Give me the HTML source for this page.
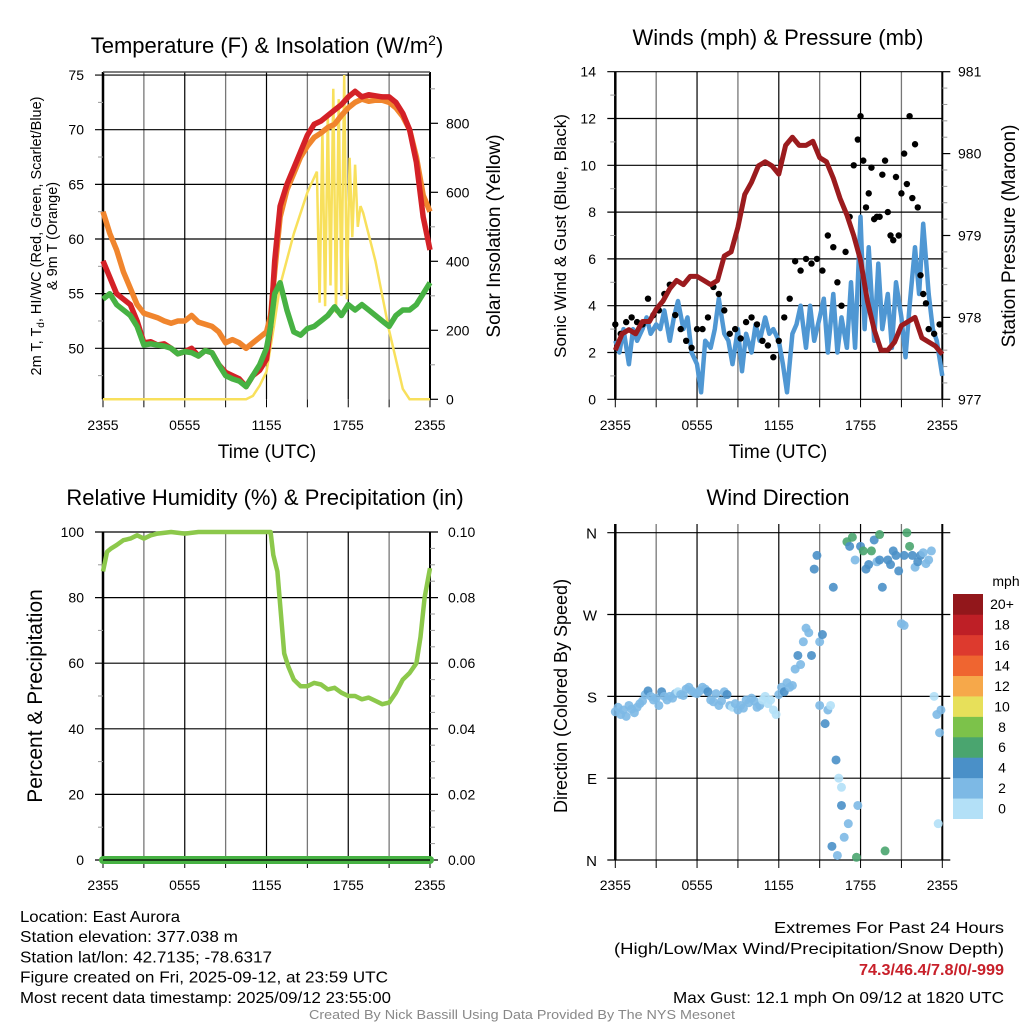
<!DOCTYPE html>
<html><head><meta charset="utf-8"><style>
body{margin:0;background:#fff}
svg{display:block;font-family:"Liberation Sans",sans-serif}
</style></head><body>
<svg id="s" width="1024" height="1024" viewBox="0 0 1024 1024"></svg>
<script>
// ---------- DATA ----------
const tempTimes=[0,0.5,1,1.5,2,2.5,3,3.5,4,4.5,5,5.5,6,6.5,7,7.5,8,8.5,9,9.5,10,10.5,11,11.5,12,12.3,12.6,13,13.5,14,14.5,15,15.5,16,16.5,17,17.5,18,18.5,19,19.5,20,20.5,21,21.5,22,22.5,23,23.5,24];
const tempRed=[58,56.5,55,54.5,54,52.5,50.5,50.6,50.3,50.4,50,49.5,49.7,50,49.3,49.8,49.6,48.5,47.8,47.5,47.2,46.5,47.5,48,49,52,58,63,65,66.5,68,69.5,70.5,70.8,71.3,71.8,72.3,73,73.5,73,73.2,73.1,73,73,72.5,71.5,70,67,62,59];
const tempOrange=[62.5,60.5,59,57,55.5,54,53.2,53,52.8,52.5,52.3,52.5,52.5,53,52.4,52.2,52,51.5,50.5,50.8,50.5,50,50.5,51,51.5,53,57,62,64.5,66,67.5,68.5,69.3,69.7,70.2,70.5,71.3,72,72.5,72.8,72.6,72.7,72.7,72.5,72,71.2,70,67.5,64,62.5];
const tempGreen=[54.5,55,54,53.5,53,52,50.3,50.4,50.3,50.2,50,49.5,49.7,49.6,49.3,49.8,49.6,48.5,47.5,47.2,47,46.5,47.5,48.5,50,52,55,56,53.5,51.5,51.2,51.8,52,52.5,53,53.8,53,54,53.5,54,53.5,53,52.5,52,53,53.5,53.5,54,55,56];
const solarTimes=[0,10.5,11,11.5,12,12.5,13,14,15,15.7,15.9,16.1,16.3,16.5,16.7,16.9,17.1,17.3,17.5,17.7,17.9,18.1,18.3,18.5,18.7,18.9,19.1,20,21,22,22.5,24];
const solarVals=[0,0,10,40,80,200,330,480,600,660,280,780,270,830,330,900,250,870,300,940,290,700,470,680,500,560,540,400,200,30,0,0];
const windTimes=[0,0.3,0.6,1,1.3,1.6,2,2.3,2.6,3,3.3,3.6,4,4.3,4.6,5,5.3,5.6,6,6.3,6.6,7,7.3,7.6,8,8.3,8.6,9,9.3,9.6,10,10.3,10.6,11,11.3,11.6,12,12.3,12.6,13,13.3,13.6,14,14.3,14.6,15,15.3,15.6,16,16.3,16.6,17,17.3,17.6,18,18.3,18.6,19,19.3,19.6,20,20.3,20.6,21,21.3,21.6,22,22.3,22.6,23,23.3,23.6,24];
const windVals=[2.5,2,3,1.5,3,2.5,3,3.5,2.8,3.2,3,3.8,2.5,3.5,4.2,3,3.5,2,1.5,0.3,2.5,2.2,3,4.3,2.8,2.5,1.5,3,1.2,2.8,2,3.2,2.5,3.5,2.8,3,2.5,1.5,0.3,2.8,3.2,4,2.2,4,2.5,3.5,4.3,2,4.5,2,3.5,2.2,5,2.2,7.8,3,6.5,2.5,5.8,3,4.5,2.2,5,3.5,1.8,4,6.5,4.5,7.5,4.5,3,2.5,1];
const pressTimes=[0,0.5,1,1.5,2,2.5,3,3.5,4,4.5,5,5.5,6,6.5,7,7.5,8,8.5,9,9.5,10,10.5,11,11.5,12,12.5,13,13.5,14,14.5,15,15.5,16,16.5,17,17.5,18,18.5,19,19.5,20,20.5,21,21.5,22,22.5,23,23.5,24];
const pressVals=[977.6,977.8,977.85,977.8,977.95,977.95,978.1,978.2,978.35,978.45,978.4,978.5,978.5,978.45,978.4,978.45,978.75,978.8,979.1,979.5,979.65,979.85,979.9,979.85,979.75,980.1,980.2,980.1,980.1,980.15,979.95,979.9,979.7,979.45,979.25,979.0,978.7,978.2,977.85,977.6,977.6,977.7,977.9,977.95,978.0,977.75,977.7,977.65,977.55];
const gustTimes=[0,0.4,0.8,1.2,1.6,2,2.4,2.8,3.2,3.6,4,4.4,4.8,5.2,5.6,6,6.4,6.8,7.2,7.6,8,8.4,8.8,9.2,9.6,10,10.4,10.8,11.2,11.6,12,12.4,12.8,13.2,13.6,14,14.4,14.8,15.2,15.6,16,16.3,16.6,16.9,17.2,17.5,17.8,18,18.2,18.4,18.6,18.8,19,19.2,19.4,19.6,19.8,20,20.2,20.4,20.6,20.8,21,21.2,21.4,21.6,21.8,22,22.2,22.4,22.6,22.8,23,23.4,23.8];
const gustVals=[3.2,2.8,3.3,3.5,3.3,3.2,4.3,3.6,3.8,4.5,4.9,3.6,3,2.5,2.2,3,3,3.5,4.8,4.5,3.8,2.8,3,2.6,3.3,3.5,3.2,2.5,2.3,1.8,2.5,3.5,4.3,5.9,5.5,6,5.8,6,5.5,7,6.5,5,4,6.3,7.8,10,11.1,12.1,10.2,8.2,8.8,9.9,7.7,7.8,7.8,9.6,10.2,8,7,6.8,9.5,7,8.8,10.5,9.2,12.1,8.6,10.9,8.2,5.3,4.5,4.1,3,2.8,3.2];
const rhTimes=[0,0.3,0.6,1,1.5,2,2.5,3,3.5,4,5,6,7,8,9,10,11,12,12.3,12.5,12.8,13,13.3,13.6,14,14.5,15,15.5,16,16.5,17,17.5,18,18.5,19,19.5,20,20.5,21,21.5,22,22.5,23,23.3,23.6,24];
const rhVals=[88,94,95,96,97.5,98,99,98,99,99.5,100,99.5,100,100,100,100,100,100,100,93,88,78,63,59,55,53,53,54,53.5,52,52.5,51,50,50,49,49.5,48.5,47.5,48,51,55,57,60,68,80,89];
const precipTimes=[0,24];
const precipVals=[0,0];
const dirTimes=[0,0.2,0.4,0.6,0.8,1.0,1.2,1.4,1.6,1.8, 2.0,2.2,2.4,2.6,2.8,3.0,3.2,3.4,3.6,3.8, 4.0,4.2,4.4,4.6,4.8,5.0,5.2,5.4,5.6,5.8, 6.0,6.2,6.4,6.6,6.8,7.0,7.2,7.4,7.6,7.8, 8.0,8.2,8.4,8.6,8.8,9.0,9.2,9.4,9.6,9.8, 10.0,10.2,10.4,10.6,10.8,11.0,11.2,11.4,11.6,11.8, 12.0,12.2,12.4,12.6,12.8,13.0,13.2,13.4,13.6,13.8, 14.0,14.2,14.4,14.6,14.8,15.0,15.2,15.4,15.6,15.8, 16.0,16.2,16.4,16.6,16.8,17.0,17.2,17.4,17.6,17.8, 18.0,18.2,18.4,18.6,18.8,19.0,19.2,19.4,19.6,19.8, 20.0,20.2,20.4,20.6,20.8,21.0,21.2,21.4,21.6,21.8, 22.0,22.2,22.4,22.6,22.8,23.0,23.2,23.4,23.6,23.8, 15.0,15.9,16.3,16.6,17.1,17.7,19.4,21.2,23.7,23.9];
const dirVals=[163,168,160,165,158,170,166,162,168,172, 175,182,186,180,176,178,170,185,180,176, 180,178,183,185,182,181,188,190,186,184, 183,186,190,188,185,176,174,183,170,175, 185,182,170,168,172,165,170,167,176,173, 178,175,168,170,176,180,172,176,165,160, 182,190,185,195,190,192,210,225,215,240, 255,250,225,320,335,240,248,150,165,170, 300,110,90,60,25,350,345,355,330,60, 345,340,320,325,340,352,328,330,300,10, 330,325,340,335,318,260,335,360,345,335, 322,328,335,338,326,330,340,180,160,140, 170,15,5,80,40,3,358,258,40,165];
const dirSpeeds=[2,2,2,2,2,2,2,2,2,2, 2,2,4,2,2,2,2,4,2,2, 2,2,2,1,2,2,2,2,2,2, 2,2,2,2,4,2,2,2,2,2, 2,4,2,1,2,2,2,2,2,2, 2,2,2,2,1,1,1,1,1,1, 2,2,4,2,2,2,2,4,2,2, 2,2,4,4,4,2,4,4,2,1, 4,4,1,4,2,6,4,6,2,2, 4,6,4,4,6,4,2,4,4,6, 4,4,4,4,4,2,4,6,6,4, 2,4,4,2,2,2,2,1,2,2, 2,4,2,1,2,6,6,2,1,2];
const tempTicks=[50,55,60,65,70,75];
const solarTicks=[0,200,400,600,800];
const windTicks=[0,2,4,6,8,10,12,14];
const pressTicks=[977,978,979,980,981];
const rhTicks=[0,20,40,60,80,100];
const precipTicks=["0.00","0.02","0.04","0.06","0.08","0.10"];
const timeLabels=["2355","0555","1155","1755","2355"];
const dirLabels=["N","E","S","W","N"];
const cbLabels=["0","2","4","6","8","10","12","14","16","18","20+"];
const cbColors=["#b3e0f7","#7db9e5","#4a90c8","#4aa56f","#7cc24a","#e7e05a","#f6a84a","#ef6530","#dd3a2e","#be1f26","#92171b"];

// ---------- HELPERS ----------
const S=document.getElementById('s');const NS='http://www.w3.org/2000/svg';
function el(tag,attrs,parent){const e=document.createElementNS(NS,tag);for(const k in attrs)e.setAttribute(k,attrs[k]);(parent||S).appendChild(e);return e;}
function txt(x,y,s,size,anchor,extra){const e=el('text',Object.assign({x:x,y:y,'font-size':size,'text-anchor':anchor||'middle',fill:'#000'},extra||{}));e.textContent=s;return e;}
function path(ts,vs,xf,yf){return ts.map((t,i)=>(i?'L':'M')+xf(t).toFixed(1)+','+yf(vs[i]).toFixed(1)).join('');}
function grid(x0,x1,yTop,yBot,name){
  const g=el('g',{});
  
  
  for(let h=0;h<=24;h+=3){const x=x0+h/24*(x1-x0);el('line',{x1:x,x2:x,y1:yTop,y2:yBot,stroke:h%6?'#777':'#000','stroke-width':h%6?1.3:1.2},g);
    el('line',{x1:x,x2:x,y1:yBot,y2:yBot+8,stroke:'#000','stroke-width':1},g);}
  el('line',{x1:x0,x2:x0,y1:yTop,y2:yBot,stroke:'#000','stroke-width':2.5},g);
  el('line',{x1:x1,x2:x1,y1:yTop,y2:yBot,stroke:'#000','stroke-width':2},g);
  return g;
}
function hline(x0,x1,y,c,w){el('line',{x1:x0,x2:x1,y1:y,y2:y,stroke:c||'#000','stroke-width':w||1.2});}
function xLabels(x0,x1,y,name){timeLabels.forEach((l,i)=>{const t=txt(x0+i*(x1-x0)/4,y,l,14);
  
  });}

// ---------- PANEL 1 ----------
{const x0=103,x1=430,xf=t=>x0+t/24*(x1-x0),yf=v=>348.3-(v-50)*10.93,sf=v=>399.3-v*0.345;
 grid(x0,x1,72,399.3,'temperature');
 tempTicks.forEach(v=>{hline(x0-8,x1,yf(v),'#000',1.2);txt(84,yf(v)+5,v,14,'end');});
 [47.5,52.5,57.5,62.5,67.5,72.5].forEach(v=>hline(x0-5,x0,yf(v),'#999',1));
 hline(x0,x1,72,'#555',1.5);
 solarTicks.forEach(v=>{hline(x1,x1+8,sf(v),'#000',1.2);txt(446,sf(v)+5,v,14,'start');});
 for(let v=100;v<=900;v+=100){if(v%200)hline(x1,x1+5,sf(v),'#999',1);}
 const sol=el('path',{d:path(solarTimes,solarVals,xf,sf),fill:'none',stroke:'#f8e05c','stroke-width':2.5});
 
 
 const po=el('path',{d:path(tempTimes,tempOrange,xf,yf),fill:'none',stroke:'#f0852d','stroke-width':5.5,'stroke-linejoin':'round'});
 
 
 const pr=el('path',{d:path(tempTimes,tempRed,xf,yf),fill:'none',stroke:'#d42127','stroke-width':5.5,'stroke-linejoin':'round'});
 
 
 const pg=el('path',{d:path(tempTimes,tempGreen,xf,yf),fill:'none',stroke:'#47b243','stroke-width':5.5,'stroke-linejoin':'round'});
 
 
 const t1=txt(267,53,'',22);t1.innerHTML='Temperature (F) &amp; Insolation (W/m<tspan dy="-8" font-size="14">2</tspan><tspan dy="8">)</tspan>';
 
 
 xLabels(x0,x1,430,'temperature');
 const xt=txt(267,458,'Time (UTC)',19);
 
 
 const yt=txt(0,0,'',14.5,'middle',{transform:'translate(41,236) rotate(-90)'});yt.innerHTML='2m T, T<tspan dy="3" font-size="10">d</tspan><tspan dy="-3">, HI/WC (Red, Green, Scarlet/Blue)</tspan>';
 
 
 const yt2=txt(0,0,'& 9m T (Orange)',14.5,'middle',{transform:'translate(57,236) rotate(-90)'});
 
 
 const rt=txt(0,0,'Solar Insolation (Yellow)',19,'middle',{transform:'translate(500,236) rotate(-90)'});
 
 
}
// ---------- PANEL 2 ----------
{const x0=615.3,x1=942.3,xf=t=>x0+t/24*(x1-x0),yf=v=>399.3-v*23.4,pf=v=>399.3-(v-977)*81.9;
 grid(x0,x1,71.7,399.3,'winds');
 windTicks.forEach(v=>{hline(x0-8,x1,yf(v),'#000',1.2);txt(596,yf(v)+5,v,14,'end');});
 for(let v=1;v<14;v+=2)hline(x0-5,x0,yf(v),'#999',1);
 pressTicks.forEach(v=>{hline(x1,x1+8,pf(v),'#000',1.2);txt(958,pf(v)+5,v,14,'start');});
 for(let v=977.2;v<981;v+=0.2){if(Math.abs(v-Math.round(v))>0.05)hline(x1,x1+5,pf(v),'#999',1);}
 const wl=el('path',{d:path(windTimes,windVals,xf,yf),fill:'none',stroke:'#4f97d3','stroke-width':4.5,'stroke-linejoin':'round'});
 
 
 gustTimes.forEach((t,i)=>{const c=el('circle',{cx:xf(t),cy:yf(gustVals[i]),r:3.2,fill:'#000'});
   
   });
 const pl=el('path',{d:path(pressTimes,pressVals,xf,pf),fill:'none',stroke:'#9b1b1e','stroke-width':5,'stroke-linejoin':'round'});
 
 
 const t=txt(778,45,'Winds (mph) & Pressure (mb)',22);
 
 
 xLabels(x0,x1,430,'winds');
 const xt=txt(778,458,'Time (UTC)',19);
 
 
 const yt=txt(0,0,'Sonic Wind & Gust (Blue, Black)',17,'middle',{transform:'translate(566,236) rotate(-90)'});
 
 
 const rt=txt(0,0,'Station Pressure (Maroon)',19,'middle',{transform:'translate(1015,236) rotate(-90)'});
 
 
}
// ---------- PANEL 3 ----------
{const x0=103,x1=430,xf=t=>x0+t/24*(x1-x0),yf=v=>860-v*3.28,pf=v=>860-v*3280;
 grid(x0,x1,532,860,'humidity');
 rhTicks.forEach(v=>{hline(x0-8,x1+8,yf(v),'#000',1.2);txt(84,yf(v)+5,v,14,'end');});
 for(let v=10;v<100;v+=20)hline(x0-5,x0,yf(v),'#999',1);
 for(let v=5;v<100;v+=5){if(v%20)hline(x1,x1+5,yf(v),'#999',1);}
 precipTicks.forEach((l,i)=>txt(448,yf(i*20)+5,l,14,'start'));
 const rl=el('path',{d:path(rhTimes,rhVals,xf,yf),fill:'none',stroke:'#8cc84b','stroke-width':4.5,'stroke-linejoin':'round'});
 
 
 const pl=el('path',{d:path(precipTimes,precipVals,xf,pf),fill:'none',stroke:'#47b243','stroke-width':8,'stroke-linecap':'round'});
 
 
 hline(x0,x1,860,'#000',1.2);
 const t=txt(265,505,'Relative Humidity (%) & Precipitation (in)',22);
 
 
 xLabels(x0,x1,890,'humidity');
 const yt=txt(0,0,'Percent & Precipitation',21,'middle',{transform:'translate(42,696) rotate(-90)'});
 
 
}
// ---------- PANEL 4 ----------
{const x0=615.3,x1=942.3,xf=t=>x0+t/24*(x1-x0),yf=v=>860-v/360*327.3;
 grid(x0,x1,524,860,'direction');
 dirLabels.forEach((l,i)=>{hline(x0-8,x1+8,yf(i*90),'#000',1.2);txt(597,yf(i*90)+6,l,15,'end');});
 dirTimes.forEach((t,i)=>{const sp=dirSpeeds[i];const c=el('circle',{cx:xf(t),cy:yf(dirVals[i]),r:4.5,fill:cbColors[Math.min(10,Math.floor(sp/2))],opacity:0.9});
   
   });
 const t=txt(778,505,'Wind Direction',22);
 
 
 xLabels(x0,x1,890,'direction');
 const yt=txt(0,0,'Direction (Colored By Speed)',18,'middle',{transform:'translate(567,696) rotate(-90)'});
 
 
 const h=(818.7-594)/11;
 cbColors.forEach((c,i)=>{const r=el('rect',{x:953,y:818.7-(i+1)*h,width:30,height:h+0.3,fill:c});
   
   
   txt(1002,818.7-(i+0.5)*h+5,cbLabels[i],14,'middle');});
 const m=txt(1006,586,'mph',14);
 
 
}
// ---------- FOOTER ----------
const left=[["Location: East Aurora",160],["Station elevation: 377.038 m",218],["Station lat/lon: 42.7135; -78.6317",252],["Figure created on Fri, 2025-09-12, at 23:59 UTC",368],["Most recent data timestamp: 2025/09/12 23:55:00",371]];
left.forEach((a,i)=>{const t=txt(20,922+i*20.2,a[0],16,'start',{textLength:a[1],lengthAdjust:'spacingAndGlyphs'});
  
  });
[["Extremes For Past 24 Hours",933,'#000','normal',230],["(High/Low/Max Wind/Precipitation/Snow Depth)",954,'#000','normal',390],["74.3/46.4/7.8/0/-999",975,'#c8202a','bold',145],["Max Gust: 12.1 mph On 09/12 at 1820 UTC",1003,'#000','normal',331]].forEach(a=>{
  const t=txt(1004,a[1],a[0],16,'end',{fill:a[2],'font-weight':a[3],textLength:a[4],lengthAdjust:'spacingAndGlyphs'});
  
  });
const cr=txt(522,1019,'Created By Nick Bassill Using Data Provided By The NYS Mesonet',12.5,'middle',{fill:'#888',textLength:426,lengthAdjust:'spacingAndGlyphs'});


</script>
</body></html>
